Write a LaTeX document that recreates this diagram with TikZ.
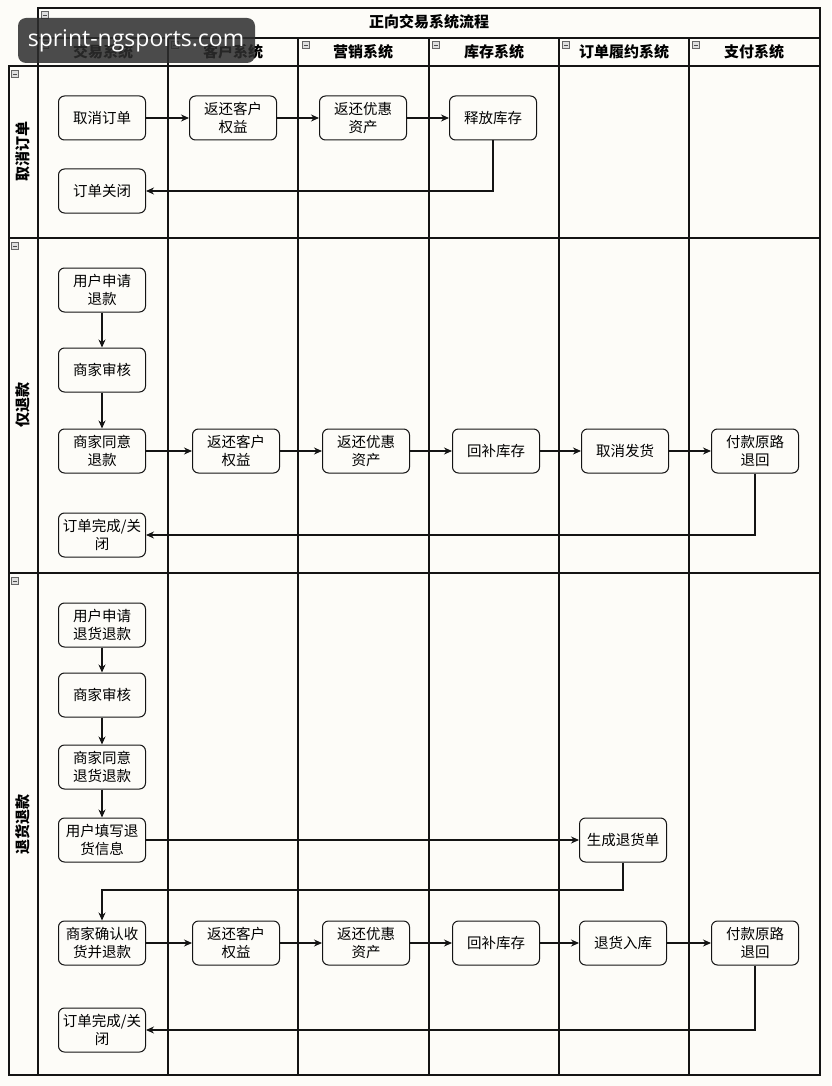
\documentclass[tikz,border=0pt]{standalone}
\usepackage{fontspec}
\setmainfont{Noto Sans CJK SC}
\newfontfamily\wmfont{Open Sans}
\usetikzlibrary{arrows.meta}
\definecolor{bgc}{RGB}{253,252,248}
\definecolor{linec}{RGB}{20,20,20}
\definecolor{wmc}{RGB}{45,45,45}
\tikzset{
  flowbox/.style={draw=linec, rounded corners=6pt, minimum width=87pt, minimum height=44pt,
    align=center, font=\fontsize{14.5}{18}\selectfont, line width=1pt, fill=bgc, inner sep=1pt},
  flowarrow/.style={draw=linec, line width=1.1pt, -{Stealth[length=8pt,width=7pt]}},
  laneline/.style={draw=linec, line width=1.4pt},
  headtext/.style={font=\bfseries\fontsize{15}{17}\selectfont},
  lanetext/.style={font=\bfseries\fontsize{15}{17}\selectfont, rotate=90},
  iconbox/.style={draw=gray!80!black, fill=gray!25, minimum size=7pt, inner sep=0pt, line width=0.5pt,
    path picture={\draw[gray!60!black, line width=0.8pt] ([xshift=1.3pt]path picture bounding box.west) -- ([xshift=-1.3pt]path picture bounding box.east);}},
}
\begin{document}
\begin{tikzpicture}[x=1pt,y=-1pt]
\useasboundingbox[fill=bgc] (0,0) rectangle (831,1086);

% grid
\draw[laneline] (38,8) rectangle (820,1075);
\draw[laneline] (9,66) rectangle (38,1075);
\draw[laneline] (38,38) -- (820,38);
\draw[laneline] (9,66) -- (820,66);
\draw[laneline] (9,238) -- (820,238);
\draw[laneline] (9,573) -- (820,573);
\foreach \x in {168,298,429,559,689} \draw[laneline] (\x,38) -- (\x,1075);

% headers
\node[headtext] (title) at (429,22) {正向交易系统流程};
\node[headtext] (h1) at (103,52) {交易系统};
\node[headtext] (h2) at (233,52) {客户系统};
\node[headtext] (h3) at (363,52) {营销系统};
\node[headtext] (h4) at (494,52) {库存系统};
\node[headtext] (h5) at (624,52) {订单履约系统};
\node[headtext] (h6) at (754,52) {支付系统};
\node[lanetext] (l1) at (23,152) {取消订单};
\node[lanetext] (l2) at (23,405) {仅退款};
\node[lanetext] (l3) at (23,824) {退货退款};

% icons
\node[iconbox] (i0) at (45,15) {};
\node[iconbox] (i1) at (45,45) {};
\node[iconbox] (i2) at (175,45) {};
\node[iconbox] (i3) at (306,45) {};
\node[iconbox] (i4) at (436,45) {};
\node[iconbox] (i5) at (566,45) {};
\node[iconbox] (i6) at (696,45) {};
\node[iconbox] (i7) at (15,74) {};
\node[iconbox] (i8) at (15,246) {};
\node[iconbox] (i9) at (15,581) {};

% lane 1
\node[flowbox] (a1) at (102,118) {取消订单};
\node[flowbox] (a2) at (233,118) {返还客户\\权益};
\node[flowbox] (a3) at (363,118) {返还优惠\\资产};
\node[flowbox] (a4) at (493,118) {释放库存};
\node[flowbox] (a5) at (102,191) {订单关闭};
\draw[flowarrow] (a1) -- (a2);
\draw[flowarrow] (a2) -- (a3);
\draw[flowarrow] (a3) -- (a4);
\draw[flowarrow] (a4.south) |- (a5.east);

% lane 2
\node[flowbox] (b1) at (102,290) {用户申请\\退款};
\node[flowbox] (b2) at (102,370) {商家审核};
\node[flowbox] (b3) at (102,451) {商家同意\\退款};
\node[flowbox] (b4) at (236,451) {返还客户\\权益};
\node[flowbox] (b5) at (366,451) {返还优惠\\资产};
\node[flowbox] (b6) at (496,451) {回补库存};
\node[flowbox] (b7) at (625,451) {取消发货};
\node[flowbox] (b8) at (755,451) {付款原路\\退回};
\node[flowbox] (b9) at (102,535) {订单完成/关\\闭};
\draw[flowarrow] (b1) -- (b2);
\draw[flowarrow] (b2) -- (b3);
\draw[flowarrow] (b3) -- (b4);
\draw[flowarrow] (b4) -- (b5);
\draw[flowarrow] (b5) -- (b6);
\draw[flowarrow] (b6) -- (b7);
\draw[flowarrow] (b7) -- (b8);
\draw[flowarrow] (b8.south) |- (b9.east);

% lane 3
\node[flowbox] (c1) at (102,625) {用户申请\\退货退款};
\node[flowbox] (c2) at (102,695) {商家审核};
\node[flowbox] (c3) at (102,767) {商家同意\\退货退款};
\node[flowbox] (c4) at (102,840) {用户填写退\\货信息};
\node[flowbox] (c5) at (623,840) {生成退货单};
\node[flowbox] (c6) at (102,943) {商家确认收\\货并退款};
\node[flowbox] (c7) at (236,943) {返还客户\\权益};
\node[flowbox] (c8) at (366,943) {返还优惠\\资产};
\node[flowbox] (c9) at (496,943) {回补库存};
\node[flowbox] (c10) at (623,943) {退货入库};
\node[flowbox] (c11) at (755,943) {付款原路\\退回};
\node[flowbox] (c12) at (102,1030) {订单完成/关\\闭};
\coordinate (turn) at (623,890);
\draw[flowarrow] (c1) -- (c2);
\draw[flowarrow] (c2) -- (c3);
\draw[flowarrow] (c3) -- (c4);
\draw[flowarrow] (c4) -- (c5);
\draw[flowarrow] (c5.south) -- (turn) -| (c6.north);
\draw[flowarrow] (c6) -- (c7);
\draw[flowarrow] (c7) -- (c8);
\draw[flowarrow] (c8) -- (c9);
\draw[flowarrow] (c9) -- (c10);
\draw[flowarrow] (c10) -- (c11);
\draw[flowarrow] (c11.south) |- (c12.east);

% watermark
\fill[wmc, opacity=0.85, rounded corners=8pt] (18,18) rectangle (255,63);
\node[text=white, font=\wmfont\fontsize{23}{26}\selectfont] (wm) at (136,41) {sprint-ngsports.com};
\end{tikzpicture}
\end{document}
